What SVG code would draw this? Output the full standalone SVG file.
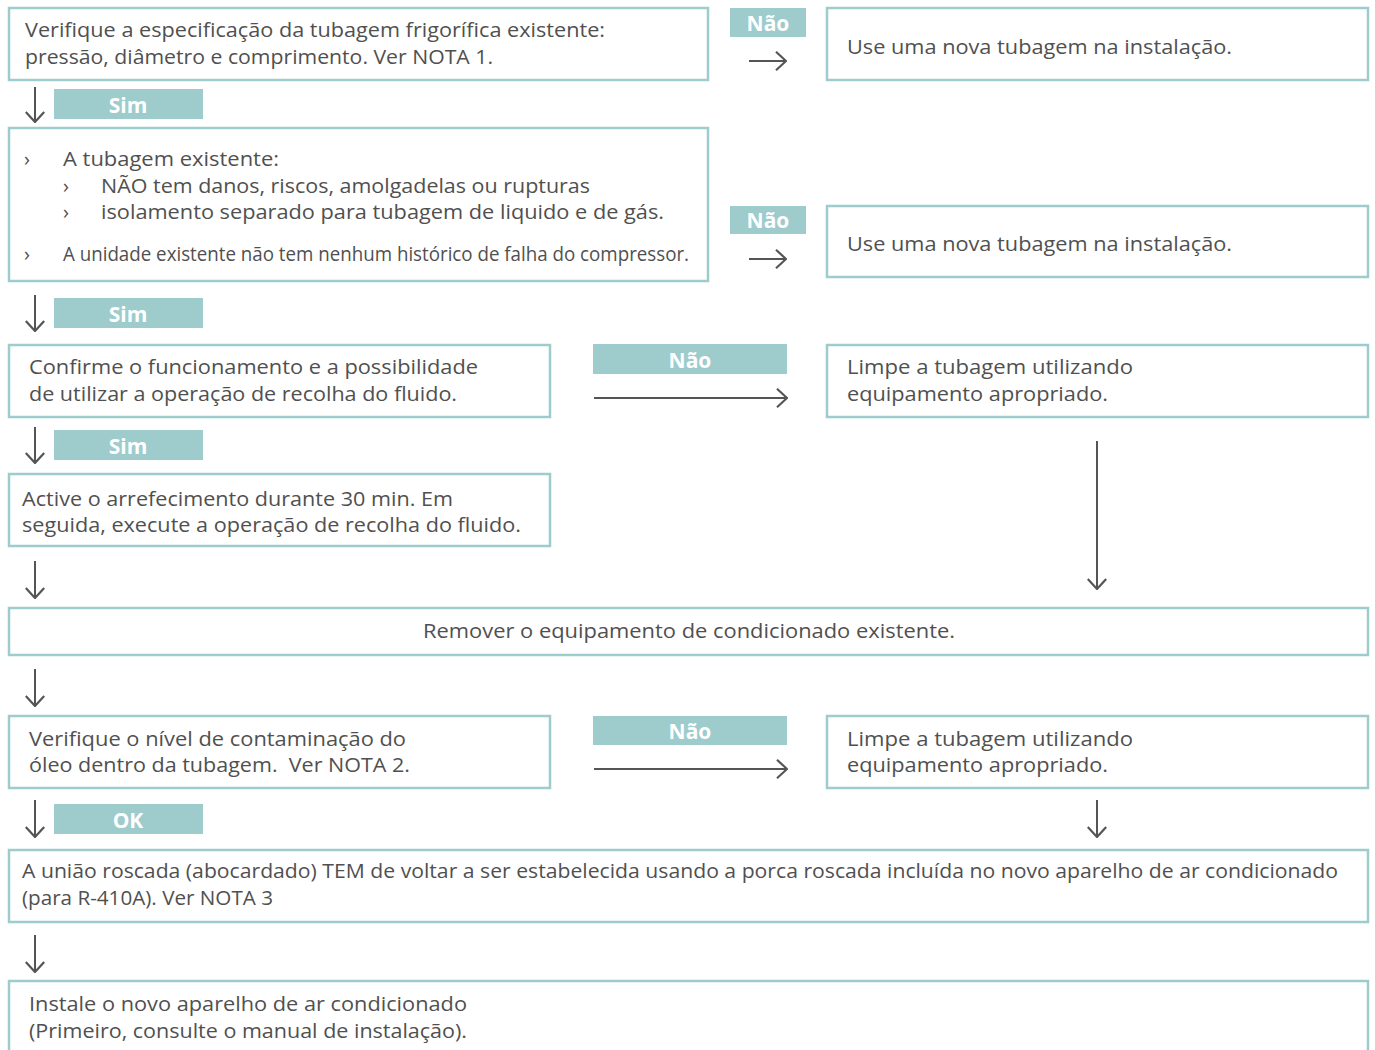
<svg xmlns="http://www.w3.org/2000/svg" width="1375" height="1050" viewBox="0 0 1375 1050">
<style>
.box{fill:#fff;stroke:#9ecbcc;stroke-width:2.5}
.lbl{fill:#9ecbcc}
.lt{font-family:"Open Sans","Liberation Sans",sans-serif;font-weight:bold;font-size:21px;fill:#fff;text-anchor:middle}
.t{font-family:"Open Sans","Liberation Sans",sans-serif;font-weight:normal;font-size:20px;fill:#505050}
.c{stroke:#555;stroke-width:2;fill:none}
</style>
<defs>
<marker id="ah" viewBox="0 0 12 20" refX="11" refY="10" markerWidth="12" markerHeight="20" markerUnits="userSpaceOnUse" orient="auto">
<path d="M1,0.8 L11,10 L1,19.2" fill="none" stroke="#555" stroke-width="2.2"/>
</marker>
</defs>
<rect width="1375" height="1050" fill="#fff"/>

<g id="connectors">
<line class="c" x1="35" y1="87" x2="35" y2="122" marker-end="url(#ah)"/>
<line class="c" x1="35" y1="295" x2="35" y2="331" marker-end="url(#ah)"/>
<line class="c" x1="35" y1="427" x2="35" y2="463" marker-end="url(#ah)"/>
<line class="c" x1="35" y1="561" x2="35" y2="598" marker-end="url(#ah)"/>
<line class="c" x1="35" y1="669" x2="35" y2="706" marker-end="url(#ah)"/>
<line class="c" x1="35" y1="800" x2="35" y2="837" marker-end="url(#ah)"/>
<line class="c" x1="35" y1="935" x2="35" y2="972" marker-end="url(#ah)"/>
<line class="c" x1="749" y1="61" x2="786" y2="61" marker-end="url(#ah)"/>
<line class="c" x1="749" y1="259" x2="786" y2="259" marker-end="url(#ah)"/>
<line class="c" x1="594" y1="398" x2="787" y2="398" marker-end="url(#ah)"/>
<line class="c" x1="594" y1="769" x2="787" y2="769" marker-end="url(#ah)"/>
<line class="c" x1="1097" y1="441" x2="1097" y2="589" marker-end="url(#ah)"/>
<line class="c" x1="1097" y1="800" x2="1097" y2="837" marker-end="url(#ah)"/>
</g>

<g id="labels">
<g id="lbl-nao1"><rect class="lbl" x="730" y="8" width="76" height="29"/><text class="lt" x="768" y="31">Não</text></g>
<g id="lbl-sim1"><rect class="lbl" x="54" y="89" width="149" height="30"/><text class="lt" x="128" y="113">Sim</text></g>
<g id="lbl-nao2"><rect class="lbl" x="730" y="206" width="76" height="28"/><text class="lt" x="768" y="228">Não</text></g>
<g id="lbl-sim2"><rect class="lbl" x="54" y="298" width="149" height="30"/><text class="lt" x="128" y="322">Sim</text></g>
<g id="lbl-nao3"><rect class="lbl" x="593" y="344" width="194" height="30"/><text class="lt" x="690" y="368">Não</text></g>
<g id="lbl-sim3"><rect class="lbl" x="54" y="430" width="149" height="30"/><text class="lt" x="128" y="454">Sim</text></g>
<g id="lbl-nao4"><rect class="lbl" x="593" y="716" width="194" height="29"/><text class="lt" x="690" y="739">Não</text></g>
<g id="lbl-ok"><rect class="lbl" x="54" y="804" width="149" height="30"/><text class="lt" x="128" y="828">OK</text></g>
</g>

<g id="n1"><rect class="box" x="9" y="8" width="699" height="72"/>
<text class="t" x="25" y="37" textLength="580" lengthAdjust="spacingAndGlyphs">Verifique a especificação da tubagem frigorífica existente:</text>
<text class="t" x="25" y="64" textLength="468" lengthAdjust="spacingAndGlyphs">pressão, diâmetro e comprimento. Ver NOTA 1.</text></g>

<g id="n2"><rect class="box" x="827" y="8" width="541" height="72"/>
<text class="t" x="847" y="54" textLength="385" lengthAdjust="spacingAndGlyphs">Use uma nova tubagem na instalação.</text></g>

<g id="n3"><rect class="box" x="9" y="128" width="699" height="153"/>
<text class="t" x="24" y="166">›</text>
<text class="t" x="63" y="166" textLength="216" lengthAdjust="spacingAndGlyphs">A tubagem existente:</text>
<text class="t" x="63" y="193">›</text>
<text class="t" x="101" y="193" textLength="489" lengthAdjust="spacingAndGlyphs">NÃO tem danos, riscos, amolgadelas ou rupturas</text>
<text class="t" x="63" y="219">›</text>
<text class="t" x="101" y="219" textLength="563" lengthAdjust="spacingAndGlyphs">isolamento separado para tubagem de liquido e de gás.</text>
<text class="t" x="24" y="261">›</text>
<text class="t" x="63" y="261" textLength="626" lengthAdjust="spacingAndGlyphs">A unidade existente não tem nenhum histórico de falha do compressor.</text></g>

<g id="n4"><rect class="box" x="827" y="206" width="541" height="71"/>
<text class="t" x="847" y="251" textLength="385" lengthAdjust="spacingAndGlyphs">Use uma nova tubagem na instalação.</text></g>

<g id="n5"><rect class="box" x="9" y="345" width="541" height="72"/>
<text class="t" x="29" y="374" textLength="449" lengthAdjust="spacingAndGlyphs">Confirme o funcionamento e a possibilidade</text>
<text class="t" x="29" y="401" textLength="428" lengthAdjust="spacingAndGlyphs">de utilizar a operação de recolha do fluido.</text></g>

<g id="n6"><rect class="box" x="827" y="345" width="541" height="72"/>
<text class="t" x="847" y="374" textLength="286" lengthAdjust="spacingAndGlyphs">Limpe a tubagem utilizando</text>
<text class="t" x="847" y="401" textLength="261" lengthAdjust="spacingAndGlyphs">equipamento apropriado.</text></g>

<g id="n7"><rect class="box" x="9" y="474" width="541" height="72"/>
<text class="t" x="22" y="506" textLength="431" lengthAdjust="spacingAndGlyphs">Active o arrefecimento durante 30 min. Em</text>
<text class="t" x="22" y="532" textLength="499" lengthAdjust="spacingAndGlyphs">seguida, execute a operação de recolha do fluido.</text></g>

<g id="n8"><rect class="box" x="9" y="608" width="1359" height="47"/>
<text class="t" x="423" y="638" textLength="532" lengthAdjust="spacingAndGlyphs">Remover o equipamento de condicionado existente.</text></g>

<g id="n9"><rect class="box" x="9" y="716" width="541" height="72"/>
<text class="t" x="29" y="746" textLength="377" lengthAdjust="spacingAndGlyphs">Verifique o nível de contaminação do</text>
<text class="t" x="29" y="772" textLength="381" lengthAdjust="spacingAndGlyphs" xml:space="preserve">óleo dentro da tubagem.  Ver NOTA 2.</text></g>

<g id="n10"><rect class="box" x="827" y="716" width="541" height="72"/>
<text class="t" x="847" y="746" textLength="286" lengthAdjust="spacingAndGlyphs">Limpe a tubagem utilizando</text>
<text class="t" x="847" y="772" textLength="261" lengthAdjust="spacingAndGlyphs">equipamento apropriado.</text></g>

<g id="n11"><rect class="box" x="9" y="850" width="1359" height="72"/>
<text class="t" x="22" y="878" textLength="1316" lengthAdjust="spacingAndGlyphs">A união roscada (abocardado) TEM de voltar a ser estabelecida usando a porca roscada incluída no novo aparelho de ar condicionado</text>
<text class="t" x="22" y="905" textLength="251" lengthAdjust="spacingAndGlyphs">(para R-410A). Ver NOTA 3</text></g>

<g id="n12"><rect class="box" x="9" y="981" width="1359" height="80"/>
<text class="t" x="29" y="1011" textLength="438" lengthAdjust="spacingAndGlyphs">Instale o novo aparelho de ar condicionado</text>
<text class="t" x="29" y="1038" textLength="438" lengthAdjust="spacingAndGlyphs">(Primeiro, consulte o manual de instalação).</text></g>
</svg>
